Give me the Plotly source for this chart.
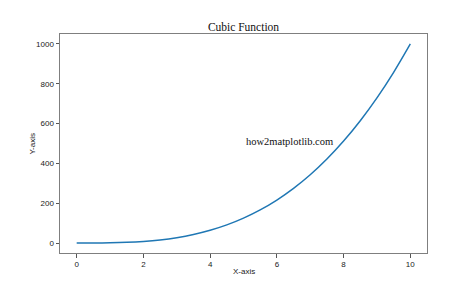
import plotly.graph_objects as go

x_vals = [0, 0.5, 1, 1.5, 2, 2.5, 3, 3.5, 4, 4.5, 5, 5.5, 6, 6.5, 7, 7.5, 8, 8.5, 9, 9.5, 10]
y_vals = [0, 0.1, 1, 3.4, 8, 15.6, 27, 42.9, 64, 91.1, 125, 166.4, 216, 274.6, 343, 421.9,
          512, 614.1, 729, 857.4, 1000]
x_ticks = [0, 2, 4, 6, 8, 10]
y_ticks = [0, 200, 400, 600, 800, 1000]
title_text = "Cubic Function"
x_label = "X-axis"
y_label = "Y-axis"
watermark = "how2matplotlib.com"

fig = go.Figure()
fig.add_trace(go.Scatter(x=x_vals, y=y_vals, mode="lines", line=dict(color="#1f77b4", width=1.5, shape="spline")))

tick_font = dict(family="Liberation Sans", size=8, color="#222222")
axis_common = dict(showline=True, linecolor="#7f7f7f", linewidth=1, mirror=True, ticks="outside",
                   ticklen=3.5, tickcolor="#555555", showgrid=False, zeroline=False,
                   automargin=False, tickfont=tick_font)

fig.update_layout(
    width=474, height=284,
    margin=dict(l=60, r=47, t=34, b=31),
    paper_bgcolor="white", plot_bgcolor="white",
    showlegend=False,
    title=dict(text=title_text, x=0.5, xanchor="center", xref="paper", y=1 - 27 / 284, yref="container",
               yanchor="middle",
               font=dict(family="Liberation Serif", size=11.5, color="#111111")),
    xaxis=dict(range=[-0.5, 10.5], tickvals=x_ticks, **axis_common),
    yaxis=dict(range=[-50, 1050], tickvals=y_ticks, **axis_common),
    annotations=[
        dict(x=5, y=512, xref="x", yref="y", text=watermark, showarrow=False,
             xanchor="left", yanchor="middle",
             font=dict(family="Liberation Serif", size=10.5, color="#111111")),
        dict(x=0.5, y=0, xref="paper", yref="paper", text=x_label, showarrow=False,
             xanchor="center", yanchor="middle", yshift=-18, font=tick_font),
        dict(x=0, y=0.5, xref="paper", yref="paper", text=y_label, showarrow=False,
             xanchor="center", yanchor="middle", xshift=-28, textangle=-90, font=tick_font),
    ],
)

fig.write_html("out.html")
